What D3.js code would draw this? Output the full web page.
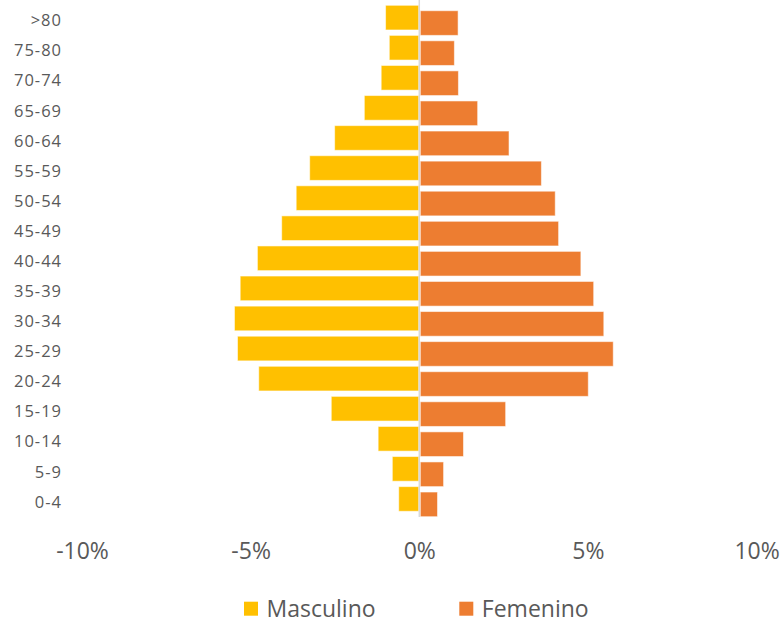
<!DOCTYPE html>
<html>
<head>
<meta charset="utf-8">
<script src="https://cdn.jsdelivr.net/npm/d3@7"></script>
<style>
  html, body { margin: 0; padding: 0; background: #fff; }
  svg { display: block; }
  text { font-family: "Open Sans", "Noto Sans", sans-serif; fill: #595959; }
</style>
</head>
<body>
<svg id="chart" width="782" height="622"></svg>
<script>
// Age groups (top to bottom)
const ageGroups = [">80","75-80","70-74","65-69","60-64","55-59","50-54","45-49","40-44",
                   "35-39","30-34","25-29","20-24","15-19","10-14","5-9","0-4"];
// Percent of population (male shown to the left as negative)
const masculino = [1.00, 0.89, 1.13, 1.63, 2.51, 3.25, 3.65, 4.08, 4.80,
                   5.31, 5.48, 5.39, 4.76, 2.61, 1.22, 0.80, 0.61];
const femenino  = [1.15, 1.04, 1.16, 1.73, 2.66, 3.62, 4.03, 4.13, 4.79,
                   5.17, 5.47, 5.75, 5.01, 2.56, 1.31, 0.72, 0.54];
const xTicks = [-10, -5, 0, 5, 10];
const seriesNames = ["Masculino", "Femenino"];
const colors = ["#FFC000", "#ED7D31"];

const svg = d3.select("#chart");

const x = d3.scaleLinear().domain([-10, 10]).range([82, 756.6]);
const y = d3.scaleBand().domain(ageGroups).range([5.3, 516.7]).paddingInner(0).paddingOuter(0);
const bw = y.bandwidth();
const barH = bw * 0.82;
const offset = bw - barH;

// Male bars
svg.append("g").selectAll("rect")
  .data(ageGroups.map((g, i) => ({ g, v: masculino[i] })))
  .join("rect")
  .attr("x", d => x(-d.v))
  .attr("y", d => y(d.g))
  .attr("width", d => x(0) - x(-d.v) - 0.5)
  .attr("height", barH)
  .attr("fill", colors[0])
  .attr("stroke", "#ffffff").attr("stroke-opacity", 0.55).attr("stroke-width", 1);

// Female bars
svg.append("g").selectAll("rect")
  .data(ageGroups.map((g, i) => ({ g, v: femenino[i] })))
  .join("rect")
  .attr("x", x(0) + 1)
  .attr("y", d => y(d.g) + offset)
  .attr("width", d => x(d.v) - x(0) - 1)
  .attr("height", barH)
  .attr("fill", colors[1])
  .attr("stroke", "#ffffff").attr("stroke-opacity", 0.55).attr("stroke-width", 1);

// Vertical zero line
svg.append("line")
  .attr("x1", x(0)).attr("x2", x(0))
  .attr("y1", 0).attr("y2", 517)
  .attr("stroke", "#d9d9d9").attr("stroke-width", 1.5);

// Y axis labels
const yAxis = d3.axisLeft(y).tickSize(0).tickPadding(0);
const gy = svg.append("g").attr("transform", "translate(62,0)").call(yAxis);
gy.select(".domain").remove();
gy.selectAll("text")
  .attr("x", 0)
  .style("font-size", "16.5px")
  .style("letter-spacing", "1px")
  .attr("fill", "#595959")
  .attr("dy", "0.36em");

// X axis labels
const xAxis = d3.axisBottom(x).tickValues(xTicks).tickSize(0).tickPadding(0)
  .tickFormat(d => d + "%");
const gx = svg.append("g").attr("transform", "translate(0,551)").call(xAxis);
gx.select(".domain").remove();
gx.selectAll("text")
  .attr("y", 0)
  .attr("dy", "0.36em")
  .style("font-size", "23px")
  .attr("fill", "#595959");

// Legend
const legendX = [244, 459.3];
const lg = svg.append("g");
seriesNames.forEach((name, i) => {
  lg.append("rect")
    .attr("x", legendX[i]).attr("y", 601.7)
    .attr("width", 14).attr("height", 14)
    .attr("fill", colors[i]);
  lg.append("text")
    .attr("x", legendX[i] + 22.5).attr("y", 616.5)
    .style("font-size", "23px")
    .text(name);
});
</script>
</body>
</html>
